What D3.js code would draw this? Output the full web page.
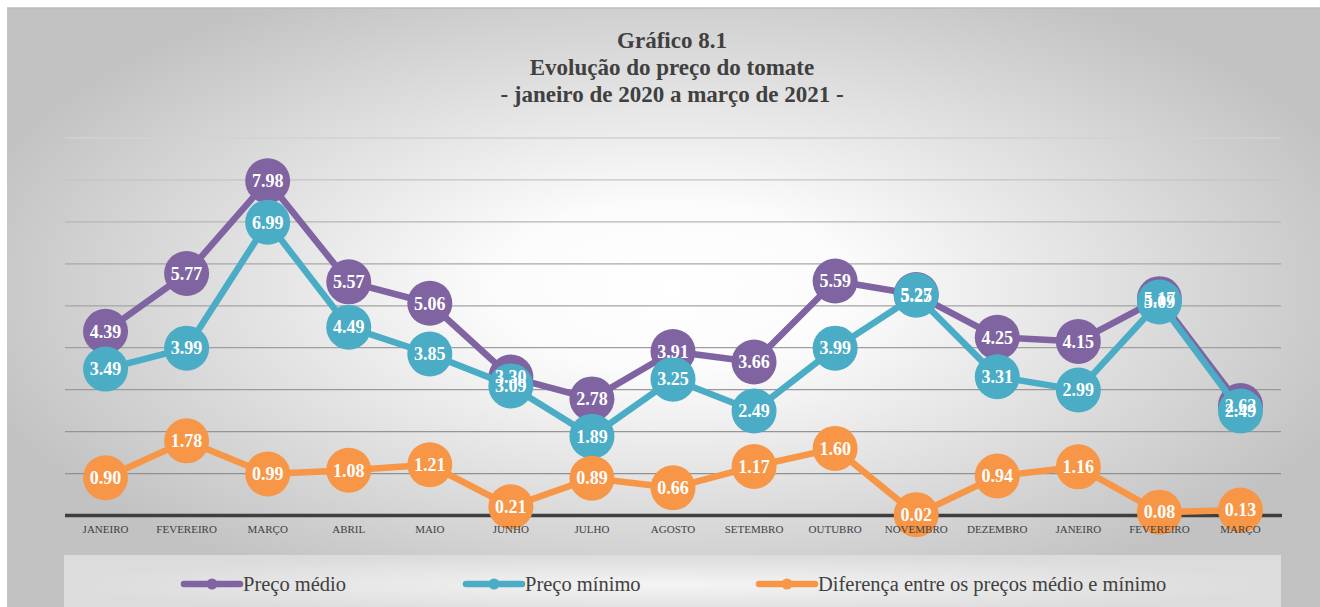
<!DOCTYPE html>
<html>
<head>
<meta charset="utf-8">
<script src="https://cdn.jsdelivr.net/npm/d3@7"></script>
<style>
  html, body { margin: 0; padding: 0; background: #ffffff; }
  svg { display: block; }
</style>
</head>
<body>
<svg id="chart" width="1320" height="607"></svg>
<script>
// ---- data ----
const months = ["JANEIRO","FEVEREIRO","MARÇO","ABRIL","MAIO","JUNHO","JULHO","AGOSTO","SETEMBRO","OUTUBRO","NOVEMBRO","DEZEMBRO","JANEIRO","FEVEREIRO","MARÇO"];
const precoMedio = [4.39, 5.77, 7.98, 5.57, 5.06, 3.30, 2.78, 3.91, 3.66, 5.59, 5.27, 4.25, 4.15, 5.17, 2.62];
const precoMinimo = [3.49, 3.99, 6.99, 4.49, 3.85, 3.09, 1.89, 3.25, 2.49, 3.99, 5.25, 3.31, 2.99, 5.09, 2.49];
const diferenca = [0.90, 1.78, 0.99, 1.08, 1.21, 0.21, 0.89, 0.66, 1.17, 1.60, 0.02, 0.94, 1.16, 0.08, 0.13];
const seriesNames = ["Preço médio", "Preço mínimo", "Diferença entre os preços médio e mínimo"];
const yTicks = [0,1,2,3,4,5,6,7,8,9];
const titleLines = ["Gráfico 8.1", "Evolução do preço do tomate", "- janeiro de 2020 a março de 2021 -"];

const colors = ["#8064A2", "#4BACC6", "#F79646"];
const serif = "'Liberation Serif', 'DejaVu Serif', serif";

const svg = d3.select("#chart");
const defs = svg.append("defs");

// background gradient
const bg = defs.append("radialGradient").attr("id", "bgGrad")
  .attr("cx", "50%").attr("cy", "45%").attr("r", "55%");
bg.append("stop").attr("offset", "0%").attr("stop-color", "#ffffff");
bg.append("stop").attr("offset", "25%").attr("stop-color", "#fbfbfb");
bg.append("stop").attr("offset", "100%").attr("stop-color", "#c2c2c2");

const lg = defs.append("radialGradient").attr("id", "legGrad")
  .attr("cx", "50%").attr("cy", "50%").attr("r", "50%");
lg.append("stop").attr("offset", "0%").attr("stop-color", "#f4f4f4");
lg.append("stop").attr("offset", "100%").attr("stop-color", "#dcdcdc");

svg.append("rect").attr("x", 7).attr("y", 8).attr("width", 1330).attr("height", 620)
  .attr("fill", "url(#bgGrad)");
svg.append("line").attr("x1", 7).attr("x2", 1320).attr("y1", 8).attr("y2", 8)
  .attr("stroke", "#bdbdbd").attr("stroke-width", 1.5);

// title
svg.append("g").selectAll("text").data(titleLines).join("text")
  .attr("x", 672).attr("y", (d, i) => 48 + i * 27)
  .attr("text-anchor", "middle")
  .attr("font-family", serif).attr("font-weight", "bold").attr("font-size", 23)
  .attr("fill", "#404040")
  .text(d => d);

// scales
const x = d3.scaleBand().domain(d3.range(months.length)).range([65, 1281]);
const cx = i => x(i) + x.bandwidth() / 2;
const y = d3.scaleLinear().domain([0, 9]).range([515.5, 138]);

// gridlines
const gridColor = d3.scaleLinear().domain([9, 6, 0]).range(["#d2d2d2", "#a8a8a8", "#8c8c8c"]);
svg.append("g").selectAll("line").data(yTicks.filter(t => t > 0)).join("line")
  .attr("x1", 65).attr("x2", 1281)
  .attr("y1", d => y(d)).attr("y2", d => y(d))
  .attr("stroke", d => gridColor(d)).attr("stroke-width", 1.3);

svg.append("line").attr("x1", 65).attr("x2", 1282).attr("y1", y(0)).attr("y2", y(0))
  .attr("stroke", "#3f3f3f").attr("stroke-width", 3.5);

// series
const allSeries = [precoMedio, precoMinimo, diferenca];
const line = d3.line().x((d, i) => cx(i)).y(d => y(d));
allSeries.forEach((vals, s) => {
  const g = svg.append("g");
  g.append("path").datum(vals).attr("d", line)
    .attr("fill", "none").attr("stroke", colors[s]).attr("stroke-width", 6.5)
    .attr("stroke-linejoin", "round").attr("stroke-linecap", "round");
  g.selectAll("circle").data(vals).join("circle")
    .attr("cx", (d, i) => cx(i)).attr("cy", d => y(d)).attr("r", 22.5)
    .attr("fill", colors[s]);
});

// x axis labels (drawn above markers, as in the reference)
const xAxis = d3.axisBottom(x).tickSize(0).tickPadding(10).tickFormat(i => months[i]);
const gx = svg.append("g").attr("transform", `translate(0,${y(0)})`).call(xAxis);
gx.select(".domain").remove();
gx.selectAll("text").attr("font-family", serif).attr("font-size", 11).attr("fill", "#404040");

allSeries.forEach((vals, s) => {
  svg.append("g").selectAll("text").data(vals).join("text")
    .attr("x", (d, i) => cx(i)).attr("y", d => y(d)).attr("dy", "0.35em")
    .attr("text-anchor", "middle")
    .attr("font-family", serif).attr("font-weight", "bold").attr("font-size", 18)
    .attr("fill", "#ffffff")
    .text(d => d3.format(".2f")(d));
});

// legend
svg.append("rect").attr("x", 64).attr("y", 555).attr("width", 1217).attr("height", 60)
  .attr("fill", "url(#legGrad)");
const legX = [184, 466, 759];
const leg = svg.append("g").selectAll("g").data(seriesNames).join("g")
  .attr("transform", (d, i) => `translate(${legX[i]},584)`);
leg.append("line").attr("x1", 0).attr("x2", 56).attr("y1", 0).attr("y2", 0)
  .attr("stroke", (d, i) => colors[i]).attr("stroke-width", 6.5).attr("stroke-linecap", "round");
leg.append("circle").attr("cx", 28).attr("cy", 0).attr("r", 5.5).attr("fill", (d, i) => colors[i]);
leg.append("text").attr("x", 59).attr("y", 7)
  .attr("font-family", serif).attr("font-size", 20.5).attr("fill", "#404040")
  .text(d => d);
</script>
</body>
</html>
